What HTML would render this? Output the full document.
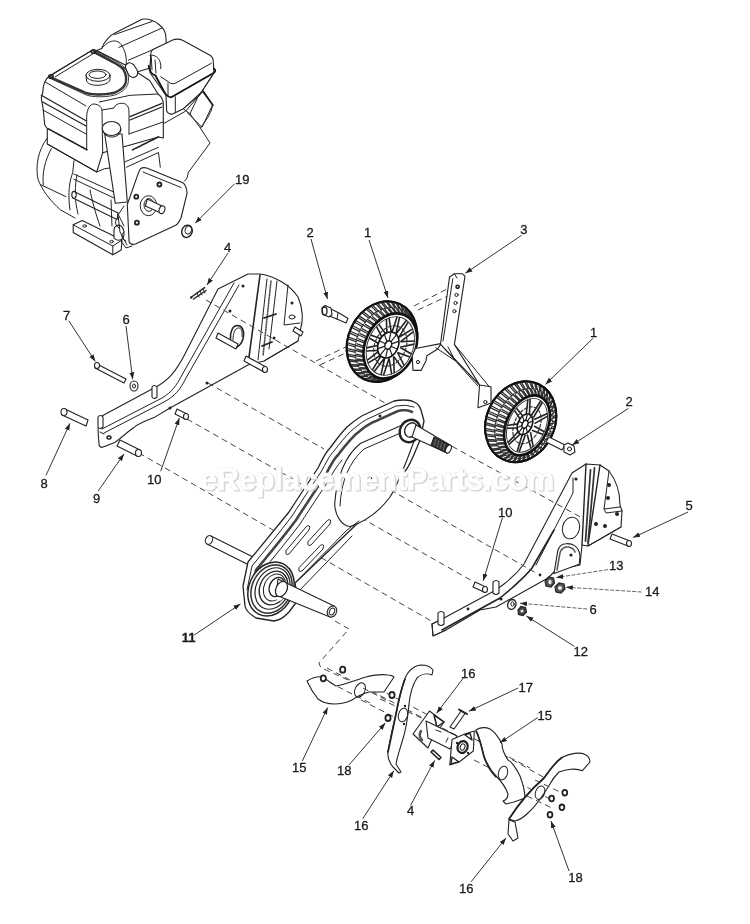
<!DOCTYPE html>
<html><head><meta charset="utf-8"><style>
html,body{margin:0;padding:0;background:#fff;width:750px;height:924px;overflow:hidden}
svg{display:block;will-change:transform}
.lb{font-family:"Liberation Sans",sans-serif;font-size:13px;fill:#1a1a1a;stroke:#1a1a1a;stroke-width:0.3}
.ar{stroke:#333;stroke-width:1;fill:none}
.d{stroke:#444;stroke-width:1;fill:none;stroke-dasharray:6 4}
.o{stroke:#222;stroke-width:1.1;fill:#fff;stroke-linejoin:round;stroke-linecap:round}
.l{stroke:#222;stroke-width:1;fill:none;stroke-linejoin:round;stroke-linecap:round}
.t{stroke:#111;stroke-width:1.8;fill:none;stroke-linejoin:round;stroke-linecap:round}
.n{vector-effect:non-scaling-stroke}
.wm{font-family:"Liberation Sans",sans-serif;font-weight:bold;font-size:30.5px;fill:#fff;stroke:#d8d8d8;stroke-width:1.6;paint-order:stroke}
</style></head><body>
<svg width="750" height="924" viewBox="0 0 750 924">
<defs>
<filter id="wmblur" x="-5%" y="-20%" width="110%" height="140%"><feGaussianBlur stdDeviation="0.7"/></filter>
<marker id="ah" viewBox="0 0 10 10" refX="10" refY="5" markerWidth="7" markerHeight="7" orient="auto"><path d="M0,1.5 L10,5 L0,8.5 z" fill="#222"/></marker>
</defs>
<g id="engine">
<!-- shroud cylinder (behind) -->
<path class="o" d="M101.7,48.5 C103.9,41 111.3,34.6 115,33 L142,19.3 C147,18.5 154,20.5 159.3,24.7 C164.5,28.7 166,34 166,38 L166.7,52 L151,56 L150,68 L137,72 L96.4,50.6 Z"/>
<path class="l" d="M114.5,34.6 L151.9,21.5 M118.8,47.4 L162,28 M128.4,60.2 L166,44"/>
<path class="l" d="M101.7,48.5 C108,40 118,38 122,46 C126,52 127,60 126,66"/>
<!-- muffler -->
<path fill="#fff" stroke="none" d="M183.5,108.9 L203,91.1 L212.8,105.2 C211,112 209,117 200.3,127.9 L210,143 L188.4,172.3 L184.6,181 L150,175 L150,112 Z"/>
<path class="l" d="M161.9,124.6 L185.7,111.1 L203,91.1 L212.8,105.2 C211,112 209,117 200.3,127.9 L210,143 L188.4,172.3 L187,178 L184.6,181"/>
<path class="l" d="M183.5,108.9 L190,113.8 L200.3,127.9 M190,113.8 L197.6,97.6"/>
<path class="l" d="M203,91.1 L212.8,105.2" style="stroke-width:1.8"/>
<!-- air cleaner -->
<path class="o" d="M150.7,54 C151,51 152,50 153,49.5 L172.7,40 C176.7,38.5 180,39 183,40.5 L210,55.3 C212.7,57 213.3,59 213.3,62 L214,72.7 L199.3,95.3 L183.3,108.7 L172.7,114 C170,114.5 168,113.5 166.7,111.3 L166,95.3 L150,72.7 Z"/>
<path class="l" d="M151.3,56.7 L152,70 M155,60 L156,73 M160.7,76.7 L168.7,82 C171,84 173,84 175.3,83.3 L211.3,63.3"/>
<path class="t" d="M148.7,66 C149.5,72 151.5,74 155.3,75.3 L164.7,92.7 C166,95.5 168,97 171.3,97.3 L214,72.7 Q216.5,70.5 214,68.7"/>
<path class="l" d="M175.3,96.7 L175.3,112.7 M168,83 L168,95 M199.3,95.3 L212.7,75.3"/>
<path class="l" d="M150,55.3 C156.7,54 162,60.7 160.7,68.7"/>
<path class="l" d="M183.3,108.7 L202,91.3 L212.7,104.7 L202,127.3 L187.3,112.7"/>
<!-- lower crankcase / blower -->
<path fill="#fff" stroke="none" d="M47.3,138 C38,150 35.3,166 38,179.3 C42,190 50,200.7 60.7,210 L75,218 L98,226 L120,236 L130,242 L160,160 L130,140 L96.7,150 Z"/>
<path class="l" d="M47.3,138 C38,150 35.3,166 38,179.3 C42,190 50,200.7 60.7,210 L75,218"/>
<path class="l" d="M51.3,148.7 C44.7,160.7 42,174 43.3,184.7"/>
<path class="l" d="M74,160.7 L72.7,172.7 C70,179.3 67.3,192.7 70,210 M77,175 C75,185 74,198 78,214"/>
<path class="l" d="M40.7,184.7 L66,196.7 M74,174 L115.3,192.7 M74,179.3 L114,198"/>
<path class="o" d="M74,191.5 L118,213 L117,219.5 L73,198 Z"/>
<ellipse class="o" cx="74" cy="194.8" rx="2.2" ry="3.4"/>
<path class="l" d="M90,190 C92,200 95,212 100,226 M111,200 L112,226"/>
<!-- base foot -->
<path class="o" d="M73.2,224.8 L82.2,220.6 L122,240 L121.2,250 L112.8,254.8 L73.2,232.6 Z"/>
<path class="l" d="M73.2,224.8 L112.8,246 L122,240 M112.8,246 L112.8,254.8"/>
<ellipse class="l" cx="84.6" cy="226" rx="1.8" ry="1.2"/><ellipse class="l" cx="111.6" cy="241.6" rx="1.8" ry="1.2"/>
<path class="o" d="M114,230 C114,226 118,224 121,226 C124,228 125,234 123,238 C121,241 116,241 114,238 Z"/>
<path class="l" d="M118,214 L124,226 M121,241 L126,248 L132,246"/>
<!-- tank -->
<path class="o" d="M49.3,76 L91.3,50.7 L96.4,50.6 L134.8,69.8 C136,70.8 137,72 138,73 L149.7,80.5 L158,94 C162,97 163.3,100 163.3,104 L163.3,138 L158.5,137 L102.7,152.7 L96.7,172 L47.3,144 L47.3,128.7 L44.7,124.7 L43.3,110 L41.3,98 L42.7,92.7 C43,84.7 44.7,79.3 49.3,76 Z"/>
<path class="l" d="M51.3,75.3 L91.3,50.7 M55.3,76.7 L92.7,54"/>
<path class="l" d="M95,53.5 L133,72.5"/>
<path class="l" d="M49.3,76.7 L85,92.5 C89,94 93,94.5 99,94.5 C107,94.3 113,93.5 117,91.5 C122,89 125,86 125.8,82 C126.5,78 126,73 122.5,68.5 C120,66 116,63.5 110,60.5 L94.3,51.7" style="stroke-width:2.4;stroke:#333;stroke-dasharray:1 0.5"/>
<path class="l" d="M51.5,79 L86,94.8 C90,96.3 94,96.8 100,96.8 C108,96.6 114,95.8 118.5,93.5 C124,90.5 127.5,87 128.2,82.5 C129,78 128.5,72.5 124.5,67.5 C122,65 118,62.3 112,59.3 L96,50.8" style="stroke-width:0.9"/>
<ellipse class="l" cx="51" cy="76.5" rx="2.2" ry="1.8" style="stroke-width:1.6"/><ellipse class="l" cx="93.5" cy="51.5" rx="2.2" ry="1.8" style="stroke-width:1.6"/>
<path class="o" d="M127,64 C129,62 132,63 134,65 L137,70 C138.5,73 137.5,76 135,77 C132.5,78 130,77 128.5,74.5 L126,69 C125,67 125.5,65 127,64 Z"/>
<ellipse class="l" cx="98" cy="75.3" rx="12" ry="6"/>
<ellipse class="l" cx="97.5" cy="74.7" rx="8.5" ry="3.7"/>
<path class="l" d="M86,75.3 L86.7,81.3 C88,84 93,85.5 98,85.3 C104,85 109,83 110,80 L110,75.3"/>
<path class="l" d="M45.3,82 L86,106"/>
<path class="t" d="M41.3,95.3 L86,120.7 M42.7,102 L86,126" style="stroke-width:1.3;stroke:#222"/>
<path class="l" d="M86.7,150 L86.7,116.7 C87,108.7 90,104 94,104 C99,104.5 102,107 102,111.3 L102.7,152.7"/>
<path class="l" d="M102,110 L114,108 C115,105 118,103 123.3,103.3 C127,104 129,107 129,111 L129,134"/>
<path class="l" d="M99.3,102 L130,95.3 L158,94"/>
<path class="t" d="M130,116.7 L162,103.3 M130,120 L162,107" style="stroke-width:1.3;stroke:#222"/>
<path class="l" d="M48,128.7 L87.3,150" style="stroke-width:1.6;stroke-dasharray:1 0.8"/>
<path class="l" d="M132.5,149.9 L158.5,136.9" style="stroke-width:1.6;stroke-dasharray:1 0.8"/>
<path class="l" d="M47.3,144 L96.7,172 L104.7,168.7 L115.3,167.3"/>
<path class="l" d="M43,110 L86,134 M129,134 L163,122"/>
<!-- dipstick tube -->
<path class="o" d="M104.7,134 L115.3,203.3 L127.3,202 L122,134 Z"/>
<ellipse class="o" cx="111.5" cy="128.5" rx="9.3" ry="7"/>
<path class="l" d="M102.5,129.5 C103,134 107,137 112,137 C117,137 120.5,134 121,129.5"/>
<!-- upper behind cover -->
<path class="l" d="M126.5,167.2 L158.5,152.5 L160.3,167.2 M124.7,162 L158.5,147.3"/>
<!-- crankcase cover -->
<path class="o" d="M140.3,168.9 Q142.9,166.9 146.7,168.1 L182.8,182.8 Q186.3,184.9 187.1,193.2 L181.1,217.5 Q178.5,224.4 174.1,226.1 L136,243.8 Q130.5,245.6 129.1,241.7 L127.3,204.5 L138.6,172.4 Z"/>
<path class="l" d="M143,172 L181,187.5 M127,245 L120,232 L118,215 L124,206"/>
<circle class="l" cx="159.4" cy="184.5" r="2" style="stroke-width:1.8"/>
<circle class="l" cx="136.3" cy="196.7" r="2" style="stroke-width:1.8"/>
<circle class="l" cx="136.9" cy="222.7" r="2" style="stroke-width:1.8"/>
<ellipse class="l" cx="148.5" cy="205.7" rx="8.3" ry="10"/>
<ellipse class="l" cx="149" cy="205" rx="5" ry="6.3"/>
<path class="o" d="M147.3,199 L163,206.5 L161,213 L145.3,206 Z"/>
<ellipse class="o" cx="162" cy="209.7" rx="2.8" ry="4" transform="rotate(20 162 209.7)"/>
<path class="l" d="M118,218 C114,220 115,226 119,228 M124,232 C120,235 122,240 126,241"/>
<!-- nut 19 -->
<ellipse class="o" cx="187.1" cy="231.3" rx="5.2" ry="6.2" transform="rotate(20 187 231)" style="stroke-width:1.4"/>
<ellipse class="l" cx="188.3" cy="229.8" rx="3.2" ry="4.2" transform="rotate(20 188 230)"/>
</g>
<g id="leftframe">
<path class="o" d="M100,417 L154,388 C168,381 176,372 186,352 L218,289 L248,274 L260,274 C275,276 290,285 298,297 C303,308 303,320 301,327 L298,341 L264,361 L248,365 L170,408 L154,417.6 C145,421 138,424 133.4,427.8 C125,434 119,440 114.7,442.4 L101.8,447.4 Q99,447 99,444 L98,430 Z"/>
<path class="l" d="M102,429 L162,398 C172,392 176,386 182,375 L234,283 M104,433 L164,402 C175,396 180,390 186,378 L239,285"/>
<path class="l" d="M260,275 L249,357" style="stroke-width:1.6"/>
<path class="l" d="M267,279 L258,360 M277,281 L269,349 M288,285 L284,325 L300,323 M264,361 L298,341"/>
<path class="l" d="M271,281 L263,356" style="stroke-dasharray:1.5 1.2;stroke-width:1.6;stroke:#555"/>
<path class="l" d="M264,318 L276,314 M262,346 L272,342" style="stroke-width:1.8"/>
<path class="l" d="M100,432 L104,434"/>
<circle cx="243" cy="286" r="1.5" fill="#222"/><circle cx="230" cy="311" r="1.5" fill="#222"/>
<circle cx="274" cy="338" r="1.5" fill="#222"/><circle cx="292" cy="303" r="1.5" fill="#222"/>
<ellipse class="l" cx="292" cy="317" rx="3" ry="2"/>
<circle cx="170" cy="408" r="1.5" fill="#222"/><circle cx="207" cy="383" r="1.5" fill="#222"/>
<ellipse class="l" cx="109" cy="437.5" rx="2" ry="1.5" style="stroke-width:1.4"/>
<!-- pins on frame -->
<path class="o" d="M152,387 L152,397 Q154,400 157,397 L157,387 Q154,384 152,387 Z"/>
<path class="o" d="M98,417 L98,427 Q100,430 103,427 L103,417 Q100,414 98,417 Z"/>
<path class="o" d="M246,356 L266,367 L264,372 L244,361 Z"/><ellipse class="o" cx="265" cy="369.5" rx="2.5" ry="3"/>
<path class="o" d="M295,327 L303,332 L301,336 L293,331 Z"/>
<path class="o" d="M218,333 L238,344 L236,349 L216,338 Z"/>
<path class="l" d="M230.5,339 C230,331 233,325.5 237.5,325.5 C242,325.5 244,330 243.5,336 C243,341 240.5,345 237,347" style="stroke-width:1.6"/><path class="l" d="M233,340 C233,333 235,328 238.5,328 C241.5,328 242.5,332 242,336.5"/>
<path class="l" d="M191.5,297 L204.6,287.6 M193.5,299 L206,290.5" style="stroke-width:1.5"/><path class="l" d="M197,293 L199,297 M200,291 L202,295 M203,289 L205,293"/><circle cx="191.2" cy="297.5" r="1.2" fill="#222"/>
</g>
<g id="rightframe">
<path class="o" d="M586,464 L600,465 L609,471 C616,480 620,492 620,505 L622,511 L621,527 L588,546 L582,545 L580,565 L556,570 L548,578 L496,607 L480,610 L446,630 L433,636 L432,624 L444,618 L496,590 L504,584 C512,578 518,572 524,564 L572,473 Z"/>
<path class="l" d="M573,478 L573,493 L536,565" />
<path class="l" d="M554,530 L532,568 C524,578 516,584 512,588 L500,598 L442,630" style="stroke-width:1.6"/>
<path class="l" d="M586,464 L582,545 M600,465 L588,545" style="stroke-width:1.4"/>
<path class="l" d="M590.5,470 L585.5,541 M594.5,468 L588,543" style="stroke-dasharray:1.5 1;stroke-width:1.8;stroke:#333"/>
<path class="l" d="M609,471 L604,509 L620,507 M604,509 L606,513 L622,511 M588,546 L621,527"/>
<circle cx="576" cy="479" r="1.6" fill="#222"/><circle cx="609" cy="485" r="2" fill="#222"/><circle cx="608" cy="498" r="2" fill="#222"/>
<circle cx="617" cy="514" r="2" fill="#222"/><circle cx="596" cy="524" r="2" fill="#222"/><circle cx="605" cy="526" r="2" fill="#222"/>
<ellipse class="l" cx="571" cy="528" rx="8.5" ry="11" transform="rotate(15 571 528)"/>
<path class="o" d="M554,573.6 L557.7,551.2 C559,546 562,543.7 566,543.7 C570,543.5 573,544.5 574.5,545.6 C578,548 580,552 580,556.8 L579.2,564.3 Z"/>
<path class="l" d="M557,570 L560,553 C561,549 564,547 567,547 C571,547 574,549 575,552" style="stroke-dasharray:1.2 0.8;stroke-width:1.6;stroke:#555"/>
<circle cx="571" cy="555" r="1.6" fill="#222"/>
<path class="l" d="M432,624 L433,636 L446,630 M432,624 L444,618"/>
<path class="o" d="M493,582 L493,593 Q496,596 499,593 L499,582 Q496,579 493,582 Z"/>
<path class="o" d="M438,613 L438,624 Q441,627 444,624 L444,613 Q441,610 438,613 Z"/>
<circle cx="468" cy="609" r="1.4" fill="#222"/><circle cx="540" cy="575" r="1.4" fill="#222"/><circle cx="501" cy="599" r="1.6" fill="#222"/>
<path class="o" d="M612,534 L630,541 L628,546 L610,539 Z"/><ellipse class="o" cx="629" cy="543.5" rx="2.5" ry="3"/>
</g>
<g id="dashes">
<path class="d" d="M206,300 L385,403"/>
<path class="d" d="M316,361 L350,345 M320,365 L352,350"/>
<path class="d" d="M414,306 L449,288 M418,310 L452,294"/>
<path class="d" d="M208,383 L324,449"/>
<path class="d" d="M187,419 L474,582"/>
<path class="d" d="M139,453 L433,622"/>
<path class="d" d="M417,427 L584,519"/>
<path class="d" d="M373,480 L536,573"/>
<path class="d" d="M335,621 L349,629 L319,663 Q319,667 326,670 L370,690"/>
</g>
<g id="wheels">
<g id="wheelL">
<ellipse class="o" cx="382.0" cy="341.6" rx="33.8" ry="41.6" transform="rotate(25.0 382.0 341.6)" style="stroke:#111;stroke-width:2"/>
<path d="M404.8,368.6 L402.4,370.4 M403.7,369.7 L402.5,370.6 M401.2,371.8 L399.5,373.0 M401.4,371.7 L398.0,374.2 M400.2,372.7 L398.5,373.9 M397.1,374.8 L394.9,376.3 M397.7,374.3 L393.3,377.3 M396.5,375.1 L394.3,376.5 M392.9,377.2 L390.0,378.9 M393.9,376.4 L388.3,379.6 M392.6,376.9 L389.9,378.4 M388.5,378.9 L384.9,380.7 M390.0,377.8 L383.2,381.2 M388.8,378.1 L385.5,379.6 M384.0,379.8 L379.8,381.7 M386.2,378.5 L378.1,381.9 M384.9,378.6 L381.1,380.1 M379.6,380.1 L374.7,381.9 M382.4,378.5 L373.1,381.7 M381.2,378.4 L376.8,379.8 M375.4,379.5 L369.8,381.2 M378.8,377.9 L368.2,380.7 M377.6,377.5 L372.7,378.7 M371.4,378.2 L365.2,379.6 M375.4,376.6 L363.7,378.9 M374.3,376.0 L368.9,377.0 M367.7,376.2 L360.9,377.3 M372.3,374.6 L359.5,376.4 M371.4,373.8 L365.5,374.5 M364.4,373.5 L357.0,374.2 M369.6,372.0 L355.8,373.0 M368.8,371.1 L362.5,371.4 M361.6,370.2 L353.6,370.5 M367.4,368.9 L352.7,369.1 M366.7,367.8 L360.0,367.7 M359.3,366.4 L350.9,366.1 M365.6,365.4 L350.1,364.5 M365.1,364.1 L358.1,363.5 M357.6,362.0 L348.8,361.2 M364.3,361.4 L348.3,359.5 M364.0,360.0 L356.7,359.0 M356.4,357.3 L347.4,355.9 M363.6,357.1 L347.1,354.1 M363.5,355.6 L356.0,354.1 M355.9,352.4 L346.7,350.3 M363.5,352.5 L346.7,348.4 M363.6,351.0 L356.0,348.9 M356.1,347.2 L346.8,344.5 M363.9,347.8 L347.0,342.6 M364.2,346.3 L356.6,343.7 M356.9,342.0 L347.6,338.7 M364.9,343.1 L348.0,336.8 M365.3,341.6 L357.8,338.5 M358.3,336.8 L349.1,332.9 M366.4,338.5 L349.8,331.0 M367.0,336.9 L359.6,333.4 M360.3,331.8 L351.4,327.3 M368.4,334.0 L352.3,325.5 M369.1,332.5 L362.0,328.6 M362.9,327.0 L354.2,322.0 M370.8,329.7 L355.3,320.3 M371.7,328.4 L364.9,324.0 M365.9,322.6 L357.7,317.1 M373.7,325.8 L358.9,315.6 M374.7,324.6 L368.2,319.9 M369.4,318.6 L361.6,312.8 M376.9,322.3 L363.0,311.4 M378.1,321.3 L372.0,316.3 M373.3,315.2 L366.0,309.0 M380.4,319.3 L367.6,307.9 M381.6,318.5 L376.0,313.2 M377.4,312.4 L370.7,305.9 M384.1,316.9 L372.4,305.0 M385.4,316.2 L380.3,310.9 M381.7,310.2 L375.7,303.6 M388.0,315.1 L377.4,303.0 M389.3,314.6 L384.7,309.2 M386.2,308.8 L380.8,302.0 M391.8,313.9 L382.5,301.7 M393.1,313.7 L389.1,308.2 M390.6,308.0 L385.9,301.3 M395.7,313.4 L387.6,301.3 M397.0,313.4 L393.5,308.0 M394.9,308.1 L390.9,301.5 M399.4,313.6 L392.6,301.7 M400.6,313.8 L397.7,308.5 M399.1,308.9 L395.8,302.5 M403.0,314.5 L397.3,303.0 M404.1,314.9 L401.7,309.8 M403.0,310.4 L400.3,304.3 M406.3,316.0 L401.8,305.0 M407.3,316.7 L405.4,311.8 M406.6,312.7 L404.5,306.8 M409.2,318.2 L405.8,307.9 M410.1,319.0 L408.7,314.5 M409.7,315.5 L408.2,310.2 M411.8,320.9 L409.3,311.4 M412.5,322.0 L411.5,317.8 M412.4,319.0 L411.3,314.1 M413.9,324.2 L412.3,315.6 M414.5,325.4 L413.8,321.7 M414.5,323.1 L413.9,318.7 M415.5,327.9 L414.6,320.3 M415.9,329.3 L415.6,326.0 M416.0,327.5 L415.7,323.7 M416.6,332.0 L416.2,325.5 M416.8,333.5 L416.7,330.7 M416.9,332.3 L416.9,329.1 M417.1,336.4 L417.1,331.0 M417.1,338.0 L417.2,335.7 M417.2,337.4 L417.3,334.8 M417.0,341.0 L417.3,336.7 M416.9,342.6 L417.0,340.8 M416.8,342.6 L417.0,340.6 M416.4,345.7 L416.7,342.6 " stroke="#333" stroke-width="1.3" fill="none"/>
<ellipse class="l" cx="386.1" cy="343.8" rx="29.4" ry="37.8" transform="rotate(25.0 386.1 343.8)" style="stroke:#333;stroke-width:1.1;stroke-dasharray:2 1.5"/>
<ellipse class="l" cx="382.0" cy="341.6" rx="33.8" ry="41.6" transform="rotate(25.0 382.0 341.6)" style="stroke:#111;stroke-width:2"/>
<ellipse class="o" cx="390.3" cy="346.0" rx="25.0" ry="34.0" transform="rotate(25.0 390.3 346.0)" style="stroke:#111;stroke-width:2.6"/>
<ellipse class="l" cx="390.3" cy="346.0" rx="22.5" ry="30.6" transform="rotate(25.0 390.3 346.0)" style="stroke:#333;stroke-width:0.9"/>
<path d="M399.9,347.3 L411.4,354.0 M397.5,352.5 L410.0,357.0 M397.5,352.5 L404.1,365.4 M393.6,356.4 L401.9,367.7 M393.6,356.4 L394.2,373.0 M389.1,358.3 L391.6,374.1 M389.1,358.3 L383.5,375.3 M384.8,357.7 L381.0,374.9 M384.8,357.7 L374.1,371.7 M381.6,354.8 L372.3,370.1 M381.6,354.8 L367.9,363.1 M380.2,350.2 L367.1,360.4 M380.2,350.2 L366.2,351.0 M380.7,344.7 L366.5,347.9 M380.7,344.7 L369.2,338.0 M383.1,339.5 L370.6,335.0 M383.1,339.5 L376.5,326.6 M387.0,335.6 L378.7,324.3 M387.0,335.6 L386.4,319.0 M391.5,333.7 L389.0,317.9 M391.5,333.7 L397.1,316.7 M395.8,334.3 L399.6,317.1 M395.8,334.3 L406.5,320.3 M399.0,337.2 L408.3,321.9 M399.0,337.2 L412.7,328.9 M400.4,341.8 L413.5,331.6 M400.4,341.8 L414.4,341.0 M399.9,347.3 L414.1,344.1 " stroke="#222" stroke-width="1.6" fill="none"/>
<ellipse class="l" cx="390.3" cy="346.0" rx="15.5" ry="21.1" transform="rotate(25.0 390.3 346.0)" style="stroke:#333;stroke-width:1.2;stroke-dasharray:3 2"/>
<ellipse class="o" cx="388.3" cy="345.0" rx="10.0" ry="13.6" transform="rotate(25.0 388.3 345.0)" style="stroke:#111;stroke-width:1.6"/>
<path d="M391.0,346.3 L396.9,349.0 M389.5,348.2 L392.1,355.1 M387.5,348.9 L385.8,357.4 M385.8,348.1 L380.4,354.9 M385.1,346.1 L378.1,348.6 M385.6,343.7 L379.7,341.0 M387.1,341.8 L384.5,334.9 M389.1,341.1 L390.8,332.6 M390.8,341.9 L396.2,335.1 M391.5,343.9 L398.5,341.4 " stroke="#222" stroke-width="1.2" fill="none"/>
<ellipse class="o" cx="388.3" cy="345.0" rx="3.2" ry="4.4" transform="rotate(25.0 388.3 345.0)" style="stroke:#111;stroke-width:1.4"/>
</g>
<g id="wheelR">
<ellipse class="o" cx="520.7" cy="421.7" rx="34.1" ry="41.6" transform="rotate(25.0 520.7 421.7)" style="stroke:#111;stroke-width:2"/>
<path d="M545.6,434.0 L551.6,436.1 M544.9,435.3 L547.5,436.5 M546.7,438.0 L549.8,439.7 M543.5,438.0 L548.7,441.4 M542.7,439.3 L544.9,441.0 M543.9,442.4 L546.5,444.7 M541.0,441.8 L545.3,446.3 M540.1,442.9 L541.9,445.1 M540.8,446.4 L542.7,449.3 M538.2,445.2 L541.3,450.7 M537.3,446.2 L538.4,448.8 M537.2,449.9 L538.4,453.2 M535.2,448.2 L536.9,454.4 M534.2,449.1 L534.7,452.0 M533.4,452.9 L533.8,456.5 M532.1,450.7 L532.2,457.5 M531.0,451.4 L530.8,454.5 M529.4,455.3 L528.9,459.1 M528.8,452.7 L527.2,459.8 M527.7,453.2 L526.7,456.5 M525.3,457.0 L523.8,460.9 M525.5,454.1 L522.1,461.3 M524.4,454.5 L522.6,457.7 M521.2,458.0 L518.6,461.9 M522.2,454.9 L516.9,462.0 M521.1,455.1 L518.5,458.2 M517.1,458.2 L513.5,462.0 M519.0,455.1 L511.9,461.9 M518.0,455.0 L514.5,458.0 M513.2,457.8 L508.6,461.3 M516.0,454.7 L507.0,460.9 M515.1,454.4 L510.7,457.1 M509.5,456.6 L503.9,459.7 M513.2,453.6 L502.4,459.0 M512.4,453.1 L507.2,455.4 M506.1,454.8 L499.5,457.4 M510.7,452.0 L498.2,456.4 M510.0,451.3 L504.1,453.2 M503.1,452.2 L495.6,454.3 M508.6,449.8 L494.4,453.1 M508.0,448.9 L501.4,450.2 M500.6,449.1 L492.2,450.5 M506.8,447.1 L491.2,449.1 M506.3,446.0 L499.1,446.8 M498.5,445.5 L489.5,446.1 M505.5,443.9 L488.7,444.5 M505.1,442.7 L497.4,442.8 M497.0,441.4 L487.3,441.2 M504.6,440.3 L486.8,439.5 M504.4,439.0 L496.3,438.4 M496.0,436.9 L485.9,435.9 M504.2,436.4 L485.6,434.1 M504.1,435.1 L495.7,433.8 M495.6,432.2 L485.2,430.3 M504.2,432.3 L485.1,428.4 M504.4,430.9 L495.7,428.9 M495.9,427.2 L485.3,424.5 M504.8,428.0 L485.4,422.6 M505.1,426.6 L496.4,423.9 M496.7,422.2 L486.1,418.7 M505.8,423.7 L486.5,416.7 M506.2,422.3 L497.6,418.9 M498.1,417.3 L487.6,412.9 M507.2,419.4 L488.2,411.0 M507.8,418.0 L499.3,414.0 M500.0,412.4 L489.8,407.3 M509.1,415.3 L490.7,405.5 M509.8,413.9 L501.6,409.3 M502.5,407.8 L492.7,402.0 M511.3,411.3 L493.7,400.3 M512.1,410.1 L504.4,404.9 M505.4,403.6 L496.1,397.1 M513.9,407.7 L497.4,395.6 M514.8,406.5 L507.6,400.9 M508.7,399.7 L500.1,392.7 M516.7,404.4 L501.5,391.4 M517.7,403.4 L511.1,397.4 M512.3,396.4 L504.5,389.0 M519.8,401.5 L506.0,387.9 M520.9,400.7 L514.9,394.5 M516.2,393.6 L509.2,385.9 M523.0,399.2 L510.9,385.1 M524.1,398.5 L518.9,392.1 M520.3,391.5 L514.2,383.6 M526.3,397.4 L515.9,383.0 M527.4,396.9 L523.0,390.4 M524.4,390.0 L519.3,382.1 M529.6,396.1 L521.0,381.7 M530.7,395.9 L527.1,389.4 M528.5,389.2 L524.5,381.4 M532.9,395.5 L526.2,381.3 M533.9,395.5 L531.2,389.1 M532.5,389.2 L529.5,381.5 M536.0,395.6 L531.2,381.8 M537.0,395.7 L535.1,389.6 M536.4,389.9 L534.4,382.5 M538.9,396.2 L536.0,383.1 M539.9,396.6 L538.8,390.7 M540.0,391.3 L539.0,384.4 M541.6,397.5 L540.5,385.1 M542.5,398.0 L542.2,392.6 M543.2,393.4 L543.2,387.0 M544.0,399.3 L544.5,388.0 M544.7,400.0 L545.2,395.1 M546.1,396.1 L547.0,390.3 M546.0,401.7 L548.1,391.6 M546.6,402.6 L547.8,398.2 M548.5,399.4 L550.2,394.3 M547.7,404.6 L551.1,395.8 M548.1,405.6 L549.8,401.9 M550.4,403.2 L552.7,398.9 M548.9,407.9 L553.4,400.5 M549.2,409.1 L551.4,406.0 M551.7,407.4 L554.6,403.9 M549.6,411.6 L555.1,405.7 M549.7,412.9 L552.3,410.4 M552.5,412.0 L555.8,409.3 M549.9,415.5 L556.0,411.2 M549.8,416.9 L552.7,415.2 M552.7,416.8 L556.3,415.0 M549.6,419.7 L556.2,416.9 M549.5,421.1 L552.5,420.1 M552.3,421.8 L556.0,420.8 M548.9,424.0 L555.7,422.8 M548.6,425.4 L551.6,425.1 M551.2,426.8 L554.9,426.7 M547.8,428.3 L554.4,428.6 M547.3,429.7 L550.2,430.1 M549.6,431.7 L553.2,432.4 M546.2,432.6 L552.4,434.3 " stroke="#333" stroke-width="1.3" fill="none"/>
<ellipse class="l" cx="523.9" cy="423.5" rx="27.3" ry="36.5" transform="rotate(25.0 523.9 423.5)" style="stroke:#333;stroke-width:1.1;stroke-dasharray:2 1.5"/>
<ellipse class="l" cx="520.7" cy="421.7" rx="34.1" ry="41.6" transform="rotate(25.0 520.7 421.7)" style="stroke:#111;stroke-width:2"/>
<ellipse class="o" cx="527.0" cy="425.3" rx="20.5" ry="31.5" transform="rotate(25.0 527.0 425.3)" style="stroke:#111;stroke-width:2.6"/>
<ellipse class="l" cx="527.0" cy="425.3" rx="18.4" ry="28.4" transform="rotate(25.0 527.0 425.3)" style="stroke:#333;stroke-width:0.9"/>
<path d="M534.0,426.0 L544.3,431.7 M532.0,430.2 L543.1,434.5 M530.5,432.1 L533.2,447.0 M527.2,434.5 L531.0,448.5 M525.3,435.1 L519.1,452.1 M522.3,434.6 L517.1,451.7 M521.0,433.5 L508.7,444.7 M519.6,430.3 L507.8,442.6 M519.5,428.0 L506.9,428.2 M520.4,423.6 L507.5,425.3 M521.5,421.3 L514.5,410.4 M524.2,417.8 L516.3,408.0 M526.0,416.5 L527.9,399.5 M529.4,415.5 L530.1,398.9 M531.1,415.7 L540.9,400.7 M533.4,417.7 L542.5,402.0 M534.2,419.5 L547.4,413.4 M534.5,423.6 L547.6,416.1 " stroke="#222" stroke-width="1.6" fill="none"/>
<ellipse class="l" cx="527.0" cy="425.3" rx="12.7" ry="19.5" transform="rotate(25.0 527.0 425.3)" style="stroke:#333;stroke-width:1.2;stroke-dasharray:3 2"/>
<ellipse class="o" cx="525.0" cy="424.3" rx="7.1" ry="10.9" transform="rotate(25.0 525.0 424.3)" style="stroke:#111;stroke-width:1.6"/>
<path d="M527.2,425.3 L531.1,427.2 M525.9,427.2 L527.4,432.2 M524.2,427.9 L522.7,434.1 M522.8,427.2 L518.9,432.4 M522.3,425.5 L517.5,427.5 M522.8,423.3 L518.9,421.4 M524.1,421.4 L522.6,416.4 M525.8,420.7 L527.3,414.5 M527.2,421.4 L531.1,416.2 M527.7,423.1 L532.5,421.1 " stroke="#222" stroke-width="1.2" fill="none"/>
<ellipse class="o" cx="525.0" cy="424.3" rx="2.7" ry="4.1" transform="rotate(25.0 525.0 424.3)" style="stroke:#111;stroke-width:1.4"/>
</g>
</g>
<g id="bolts2">
<path class="o" d="M329,308 L340,313.5 L348,318.5 L346,323 L338,319.5 L327,315 Z"/>
<path class="o" d="M325,305.5 L331,308 L332,314.5 L329,317 L323,314.5 L322,308 Z"/>
<ellipse class="l" cx="324.5" cy="311" rx="2.5" ry="4" style="stroke-width:1.3"/>
<path class="l" d="M338,313 L337,319.5"/>
<path class="o" d="M549,437 L565,445 L562,450 L546,442 Z"/>
<path class="o" d="M564,445 L568,443 L574,446 L575,452 L570,455 L564,452 Z"/><circle class="l" cx="569.5" cy="449" r="2"/>
</g>
<g id="bracket3">
<path class="o" d="M449.5,277 L454.4,273.8 L462.5,273.8 L465,276.2 L454.4,344.4 L479.6,385 L491,386.7 L491,403 L478,407.8 L478,406 L479.6,385 L440.6,344.4 L437.4,349.3 L426.8,355.8 L426,360.7 L421.1,370.4 L413,370.4 L412.2,355.8 L415.4,348.5 L440.6,343.6 Z"/>
<path class="l" d="M452.8,278.7 L443,341 M454.4,273.8 L457,278 M435.7,347.7 L455.2,360.7 L448,347 M454.4,344.4 L489.3,386.7 M440.6,344.4 L478,386"/>
<circle class="l" cx="457.6" cy="286.8" r="1.6" style="stroke-width:1.6"/><circle class="l" cx="456.5" cy="294.9" r="1.6"/><circle class="l" cx="455.5" cy="303" r="1.6"/><circle class="l" cx="454.4" cy="311.2" r="1.6"/>
<circle class="l" cx="485.3" cy="402" r="1.6"/><circle class="l" cx="418" cy="362" r="1.6"/>
</g>
<g id="housing">
<path class="o" d="M207,544 L251,566 L255,558 L211,536 Z"/>
<ellipse class="o" cx="209" cy="540" rx="3.5" ry="4.5" transform="rotate(25 209 540)"/>
<path class="o" style="stroke-width:1.3" d="M243,586 L248,562 C262,545 276,528 289,512 C300,495 310,480 318,468 C322,460 325,453 330,448 C336,440 341,433 347,427 C354,421 360,416 368,413 L394,401 Q404,399 412,401 Q419,403 421,410 L424,421 L420,440 C414,455 410,465 406,470 L360,521 L295,583 L298,600 L289,612 Q282,620 274,621 L256,618 Q246,612 245,606 Z"/>
<path class="l" d="M247,590 L252,566 C266,549 280,532 292,516 C303,499 313,484 321,472 C326,463 329,456 334,451 C340,443 345,437 351,431 C358,425 364,420 372,417 L396,406 Q406,404 414,407" />
<path class="l" d="M251,594 L256,570 C270,553 284,536 296,520 C307,503 317,488 325,476 C330,467 333,460 338,455 C344,447 349,441 355,435 C362,429 368,424 376,421 L398,411 Q406,409 412,412" style="stroke-dasharray:0.9 1.1;stroke-width:2.6;stroke:#444"/>
<path class="l" d="M255,598 L260,574 C274,557 288,540 300,524 C311,507 321,492 329,480 C333,472 337,466 342,460"/>
<path class="o" d="M334.7,504 C336.4,478 345,455.5 360.7,443.3 L404,424.3 L414.4,440 C407.5,459 398.8,483.2 390,497 C379.7,511 365.9,521.3 350.3,526.5 C342,526 335,516 334.7,504 Z"/>
<path class="l" d="M340,506 C341,482 349,462 364,449 L405,431"/>
<path class="l" d="M295,583 L347,530 L359,521 M300,590 L352,536"/>
<path class="l" d="M307,526 Q311,524 309,530 L289,554 Q285,556 286,551 Z M328,520 Q332,518 330,524 L311,545 Q307,547 308,542 Z M321,545 Q325,543 323,549 L302,571 Q298,573 299,568 Z"/>
<ellipse class="o" cx="410" cy="431" rx="10" ry="11.5" transform="rotate(30 410 431)" style="stroke-width:2.4;stroke:#222"/>
<ellipse class="l" cx="411" cy="430" rx="6" ry="7.5" transform="rotate(30 411 430)" style="stroke-width:1.4"/>
<path class="o" d="M416,425 L450,445 L447,453 L412,437 Z"/>
<path d="M434,437 L450,445.5 L447,453 L431,445 Z" fill="#333" stroke="#111" stroke-width="1"/><path class="l" d="M436,439 L434,446 M439,440.5 L437,447.5 M442,442 L440,449 M445,443.5 L443,450.5" style="stroke:#888;stroke-width:0.6"/>
<ellipse class="o" cx="448.5" cy="449" rx="2.5" ry="4.3" transform="rotate(25 448.5 449)"/>
<circle class="l" cx="374" cy="479" r="2.5" style="stroke-width:1.5"/><circle cx="380" cy="416" r="1.5" fill="#222"/>
<ellipse class="o" cx="271" cy="589" rx="22" ry="28" transform="rotate(25 271 589)" style="stroke-width:1.5"/>
<ellipse class="l" cx="271.5" cy="589" rx="19.5" ry="25" transform="rotate(25 271.5 589)" style="stroke-width:1.6;stroke-dasharray:1.5 1;stroke:#333"/>
<ellipse class="l" cx="272.5" cy="588.5" rx="16.5" ry="21.5" transform="rotate(25 272.5 588.5)" style="stroke-width:1.2"/>
<ellipse class="l" cx="273.5" cy="588" rx="13.5" ry="17.5" transform="rotate(25 273.5 588)" style="stroke-width:1.4"/>
<ellipse class="l" cx="274.5" cy="587.5" rx="10.5" ry="14" transform="rotate(25 274.5 587.5)" style="stroke-width:1"/>
<path class="o" d="M272,578 L280,581 L287,596 L280,601 L271,597 Z" style="stroke:none"/>
<ellipse class="o" cx="277" cy="587" rx="7.5" ry="10" transform="rotate(25 277 587)" style="stroke-width:1.4"/>
<path class="o" d="M278,579 L334,606 L330,617 L276,595 Z"/>
<ellipse class="o" cx="281.5" cy="589" rx="5.5" ry="8" transform="rotate(25 281.5 589)" style="stroke-width:1.2"/>
<ellipse class="o" cx="332" cy="611.5" rx="4.5" ry="5.8" transform="rotate(25 332 611.5)"/>
<ellipse class="l" cx="332" cy="611.5" rx="2.5" ry="3.5" transform="rotate(25 332 611.5)"/>
</g>
<g id="nuts">
<path class="o" d="M475,582 L486,587 L484,592 L473,587 Z"/><ellipse class="o" cx="485" cy="589.5" rx="2.5" ry="3"/>
<ellipse class="o" cx="512" cy="604.5" rx="4" ry="5" transform="rotate(20 512 604)" style="stroke-width:1.4"/><ellipse class="l" cx="512.5" cy="604" rx="1.6" ry="2.2"/>
<path d="M518,610 L521,606.5 L525.5,607.5 L526.5,612 L523,615.5 L518.5,614.5 Z" fill="#444" stroke="#222" stroke-width="1.2"/><circle cx="522" cy="611" r="1.6" fill="#ddd"/>
<path d="M545,581 L548.5,577 L553.5,578 L554.5,583 L551,587 L546,586 Z" fill="#555" stroke="#222" stroke-width="1.2"/><ellipse cx="550" cy="582" rx="1.6" ry="2.2" fill="#eee"/>
<path d="M555,587 L559,583 L564,584 L565,589 L561,593 L556,592 Z" fill="#555" stroke="#222" stroke-width="1.2"/><circle cx="560" cy="588" r="2" fill="#eee"/>
</g>
<g id="tines">
<path class="d" d="M327,668 L475,745 M329,682 L372,704 M361,700 L400,720 M369,684 L430,716 M380,699 L430,722 M474,760 L552,800 M477,740 L545,778 M465,734 L530,768"/>
<!-- tine 15 left -->
<path class="o" d="M307,681 C312,678 316,676 322,677 C328,680 332,684 336,686 C346,684 356,680 366,677 C374,675 382,674 388,675 C391,675 393,676 394,677 L384,692 C378,692 374,692 369,692 C362,694 356,697 352,700 C346,703 340,704 334,704 C328,704 322,702 318,699 C314,694 311,690 307,681 Z"/>
<ellipse class="l" cx="360" cy="690" rx="5" ry="7.5" transform="rotate(25 360 690)"/>
<path class="d" d="M329,682 L352,694 M363,688 L386,700"/>
<!-- tine 16 left -->
<path class="o" d="M404,681 C407,672 413,666 421,665 C426,665 431,667 433,670 L432,675 C427,673 421,674 417,678 C413,684 410,694 409,704 C408,716 406,730 402,742 C399,752 397,758 396,764 L401,772 L399,773 L393,767 C389,762 387,757 388,751 C390,740 393,726 396,714 C399,702 401,690 404,681 Z"/>
<path class="l" d="M405,679 C401,690 398,702 396,714 C393,728 390,742 388,752" style="stroke-width:1.7"/>
<ellipse class="l" cx="403" cy="715" rx="4.5" ry="7" transform="rotate(15 403 715)"/>
<circle cx="405" cy="706" r="1.2" fill="#222"/><circle cx="404" cy="724" r="1.2" fill="#222"/>
<!-- hub -->
<path class="o" d="M413,734 L429.5,711 L444,722 L431,741 L428,748 Z"/>
<path class="l" d="M434,715 L444,722 L437,727 Z" style="stroke-width:1.5"/>
<path class="l" d="M421,731 Q418,736 422,740" style="stroke-width:2.5;stroke:#555"/>
<path class="o" d="M426,721 L457,736 L450,749 L428,738 Z"/>
<path class="l" d="M436,730 L441,732 M446,742 L448,738" style="stroke-width:1"/>
<path class="o" d="M452,739.5 L464.7,734 L474.3,731 L473.3,751 L460.5,761 L449.8,765 Z"/>
<path class="l" d="M465,735 L472,740 L470,733 Z M452,757 L459,762 L451,764 Z" style="stroke-width:1.4"/>
<ellipse class="l" cx="462.6" cy="747" rx="5" ry="6" transform="rotate(20 462.6 747)" style="stroke-width:2.2"/>
<ellipse class="l" cx="462.6" cy="747" rx="2.3" ry="3.2" transform="rotate(20 462.6 747)"/>
<circle cx="457" cy="743" r="1.2" fill="#222"/><circle cx="468" cy="753" r="1.2" fill="#222"/>
<!-- pin 17 and clip 4 -->
<path class="o" d="M450,727 L461,711 L465,713.5 L454,729 Z"/><path class="l" d="M459,709.5 L467,714" style="stroke-width:2"/>
<path class="o" d="M431,752 L439,759.5 L441,757.5 L433,750 Z" style="stroke-width:1.6"/>
<!-- tine 15 right -->
<path class="o" d="M476,730 C480,738 482,748 484,756 C487,764 490,770 496,776 C502,782 506,788 508,794 C508,797 506,800 503,801 L506,804 L514,802 L525,798 C525,792 523,784 520,776 C516,768 512,762 508,760 C504,754 502,748 502,744 C499,738 495,732 490,729 C486,727 480,727 476,730 Z"/>
<path class="l" d="M476,731 C480,739 482,749 484,757 C487,765 490,771 496,777" style="stroke-width:1.6"/>
<ellipse class="l" cx="503" cy="773" rx="4.5" ry="7" transform="rotate(15 503 773)"/>
<!-- tine 16 right -->
<path class="o" d="M509,819 C516,808 528,792 544,778 C550,770 555,762 562,757.5 C570,753 580,752 585,754.5 C588,756 590,759 590,762 L582.4,770.7 C576,768 566,769 559,772 C555,776 552,780 550,784 C544,794 536,806 528,813 C524,817 519,820 515,821 Z"/>
<path class="l" d="M509,819 C516,808 528,792 544,778 C550,770 555,762 562,757.5" style="stroke-width:1.7"/>
<ellipse class="l" cx="540" cy="792.7" rx="4.5" ry="7" transform="rotate(20 540 792.7)"/>
<path class="o" d="M509,820 L508,834 L513,841 L518,838 L515,822 Z"/>
<path class="d" d="M535,780 L560,792 M527,796 L552,808"/>
<!-- nuts 18 -->
<g fill="#fff" stroke="#222" stroke-width="1.8">
<ellipse cx="323.3" cy="678.3" rx="2.6" ry="3"/><ellipse cx="342.7" cy="669.7" rx="2.6" ry="3"/><ellipse cx="392" cy="695" rx="2.6" ry="3"/><ellipse cx="388" cy="718" rx="2.6" ry="3"/>
<ellipse cx="564.8" cy="792.7" rx="2.4" ry="2.8"/><ellipse cx="551.6" cy="798.5" rx="2.4" ry="2.8"/><ellipse cx="561.9" cy="807.3" rx="2.4" ry="2.8"/><ellipse cx="550" cy="814.7" rx="2.4" ry="2.8"/>
</g>
</g>
<g id="pins">
<path class="o" d="M97,364 L126,379 L124,383 L95,368 Z"/><ellipse class="o" cx="97" cy="365.5" rx="2.5" ry="3"/>
<ellipse class="o" cx="134" cy="386" rx="4" ry="5"/><ellipse class="l" cx="134" cy="386" rx="1.5" ry="2"/>
<path class="o" d="M65,409 L88,420 L86,426 L62,415 Z"/><ellipse class="o" cx="64" cy="412" rx="3" ry="3.5"/>
<path class="o" d="M120,440 L140,450 L137,456 L117,446 Z"/><ellipse class="o" cx="138.5" cy="453" rx="3" ry="3.5"/>
<path class="o" d="M177,409 L187,414 L185,419 L175,414 Z"/><ellipse class="o" cx="186" cy="416.5" rx="2.5" ry="3"/>
</g>
<g id="labels">
<text class="lb" x="235" y="184">19</text>
<text class="lb" x="224" y="252">4</text>
<text class="lb" x="306.5" y="237">2</text>
<text class="lb" x="364" y="237">1</text>
<text class="lb" x="520.2" y="233.7">3</text>
<text class="lb" x="63" y="320">7</text>
<text class="lb" x="122.5" y="324">6</text>
<text class="lb" x="40.5" y="487.5">8</text>
<text class="lb" x="93.0" y="503.2">9</text>
<text class="lb" x="147" y="484">10</text>
<text class="lb" x="590.0" y="336.5">1</text>
<text class="lb" x="625.5" y="406.4">2</text>
<text class="lb" x="685.5" y="510.3">5</text>
<text class="lb" x="498" y="517">10</text>
<text class="lb" x="609.0" y="570.4">13</text>
<text class="lb" x="645.0" y="595.9">14</text>
<text class="lb" x="589.5" y="614">6</text>
<text class="lb" x="573.5" y="655.5">12</text>
<text class="lb" x="181.7" y="641.5" style="font-weight:bold">11</text>
<text class="lb" x="461" y="678">16</text>
<text class="lb" x="518.5" y="691.5">17</text>
<text class="lb" x="537.5" y="720">15</text>
<text class="lb" x="292" y="772">15</text>
<text class="lb" x="337.0" y="774.8">18</text>
<text class="lb" x="354" y="830">16</text>
<text class="lb" x="407" y="814.5">4</text>
<text class="lb" x="459" y="892.5">16</text>
<text class="lb" x="568.3" y="882.0">18</text>
</g>
<g id="arrows">
<path class="ar" marker-end="url(#ah)" d="M234.6,183.7 L195.2,223.2"/>
<path class="ar" marker-end="url(#ah)" d="M228,253 L207,285"/>
<path class="ar" marker-end="url(#ah)" d="M311,239 L327.5,299"/>
<path class="ar" marker-end="url(#ah)" d="M369,240 L388,298"/>
<path class="ar" marker-end="url(#ah)" d="M521.6,235.3 L465.3,273.3"/>
<path class="ar" marker-end="url(#ah)" d="M68.7,320.7 L95.3,361.5"/>
<path class="ar" marker-end="url(#ah)" d="M126,326 L132.7,379.3"/>
<path class="ar" marker-end="url(#ah)" d="M46,475.3 L70,423.3"/>
<path class="ar" marker-end="url(#ah)" d="M98,491.3 L123.9,454"/>
<path class="ar" marker-end="url(#ah)" d="M160.7,471.3 L179.3,418"/>
<path class="ar" marker-end="url(#ah)" d="M593.3,338 L545.5,384.4"/>
<path class="ar" marker-end="url(#ah)" d="M628.5,408.3 L572.2,444.9"/>
<path class="ar" marker-end="url(#ah)" d="M688,512 L633,537.6"/>
<path class="ar" marker-end="url(#ah)" d="M502.4,517.8 L483.2,580.8"/>
<path class="ar" marker-end="url(#ah)" style="stroke:#666;stroke-dasharray:4 1.5" d="M608,569.6 L556.2,577.6"/>
<path class="ar" marker-end="url(#ah)" style="stroke:#666;stroke-dasharray:4 1.5" d="M641.6,592 L565.8,587.2"/>
<path class="ar" marker-end="url(#ah)" style="stroke:#666;stroke-dasharray:4 1.5" d="M587.2,609 L520,603.2"/>
<path class="ar" marker-end="url(#ah)" d="M574.4,646.4 L526.4,616"/>
<path class="ar" marker-end="url(#ah)" d="M194,635.2 L240.4,604"/>
<path class="ar" marker-end="url(#ah)" d="M463.3,678.1 L436.6,713.3"/>
<path class="ar" marker-end="url(#ah)" d="M518.1,688 L468.9,711.3"/>
<path class="ar" marker-end="url(#ah)" d="M537.8,717.5 L499.9,742.8"/>
<path class="ar" marker-end="url(#ah)" d="M302.3,761 L327.7,707.5"/>
<path class="ar" marker-end="url(#ah)" d="M348.8,765.2 L385.3,723"/>
<path class="ar" marker-end="url(#ah)" d="M362.8,818.6 L393.8,770.8"/>
<path class="ar" marker-end="url(#ah)" d="M410.6,805.4 L434.6,760.4"/>
<path class="ar" marker-end="url(#ah)" d="M471,881.9 L506,838"/>
<path class="ar" marker-end="url(#ah)" d="M569,871 L551,821"/>
</g>
<g id="wm"><text class="wm" x="201.2" y="491.2" style="fill:#d4d4d4;stroke:#d4d4d4;stroke-width:1.2;filter:url(#wmblur)">eReplacementParts.com</text><text class="wm" x="200" y="490" style="stroke:#ececec;stroke-width:0.8">eReplacementParts.com</text></g>
</svg>
</body></html>
